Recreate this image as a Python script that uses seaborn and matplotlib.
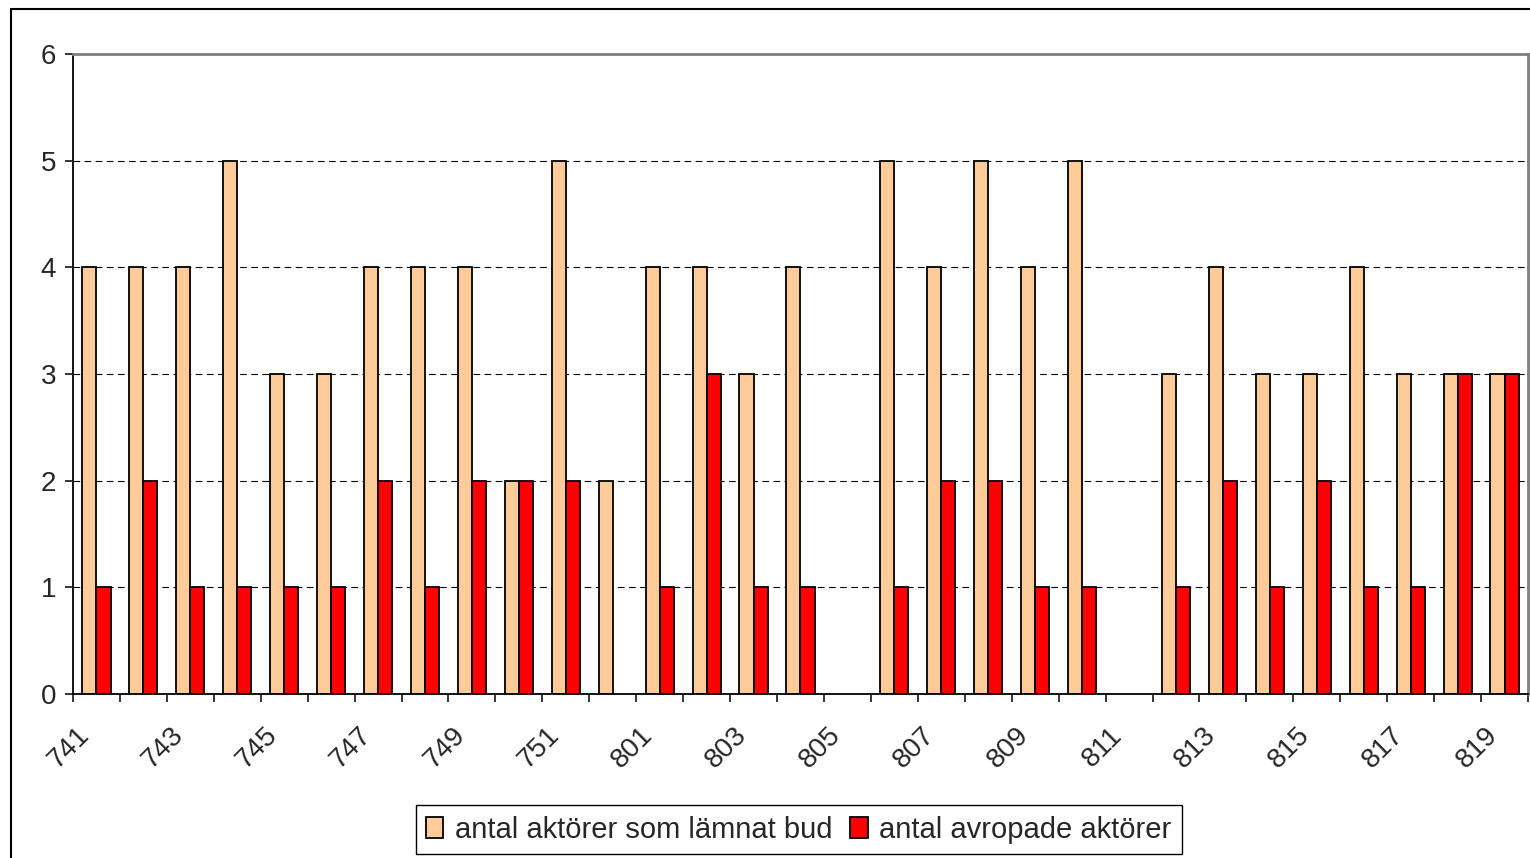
import matplotlib
matplotlib.use('Agg')
import matplotlib.pyplot as plt
import matplotlib.patches as mpatches
import matplotlib.transforms as mtransforms
import seaborn as sns
import pandas as pd
import numpy as np

categories = ['741', '742', '743', '744', '745', '746', '747', '748', '749', '750', '751', '752',
              '801', '802', '803', '804', '805', '806', '807', '808', '809', '810', '811', '812',
              '813', '814', '815', '816', '817', '818', '819']
bud = [4, 4, 4, 5, 3, 3, 4, 4, 4, 2, 5, 2,
       4, 4, 3, 4, 0, 5, 4, 5, 4, 5, 0, 3,
       4, 3, 3, 4, 3, 3, 3]
avropade = [1, 2, 1, 1, 1, 1, 2, 1, 2, 2, 2, 0,
            1, 3, 1, 1, 0, 1, 2, 2, 1, 1, 0, 1,
            2, 1, 2, 1, 1, 3, 3]
series_names = ['antal aktörer som lämnat bud', 'antal avropade aktörer']
colors = ['#FFCC99', '#FF0000']

df = pd.DataFrame({'kategori': categories * 2,
                   'antal': bud + avropade,
                   'serie': [series_names[0]] * len(categories) + [series_names[1]] * len(categories)})

sns.set_style('white')
plt.rcParams['font.family'] = ['Liberation Sans', 'DejaVu Sans']

fig = plt.figure(figsize=(15.3, 8.58), dpi=100)
ax = fig.add_axes([0.0477, 0.191, 0.951, 0.746])

sns.barplot(data=df, x='kategori', y='antal', hue='serie', order=categories,
            hue_order=series_names, palette=colors, saturation=1, width=0.6,
            edgecolor='black', linewidth=1.3, ax=ax, legend=False)

# empty bars should not leave an outline on the axis
for p in ax.patches:
    if p.get_height() == 0:
        p.set_linewidth(0)

ax.set_xlim(-0.5, len(categories) - 0.5)
ax.set_ylim(0, 6)
ax.set_xlabel('')
ax.set_ylabel('')

# gridlines
for y in range(1, 6):
    ax.axhline(y, color='black', linestyle=(0, (6, 4)), linewidth=0.8, zorder=0)

# spines
for s in ['left', 'bottom']:
    ax.spines[s].set_color('black')
    ax.spines[s].set_linewidth(1.3)
for s in ['top', 'right']:
    ax.spines[s].set_color('#808080')
    ax.spines[s].set_linewidth(2)
    ax.spines[s].set_visible(True)

ax.set_yticks(range(0, 7))
ax.tick_params(axis='y', direction='out', length=6, width=1.3, labelsize=20, pad=6, left=True)

# labels at every other category, ticks at category boundaries
pos = np.arange(len(categories))
ax.set_xticks(pos[::2])
ax.set_xticklabels(categories[::2], rotation=45, ha='right', rotation_mode='anchor', fontsize=20)
ax.tick_params(axis='x', which='major', length=0, pad=20)
shift = mtransforms.ScaledTranslation(-20 / 100, 0, fig.dpi_scale_trans)
for lbl in ax.get_xticklabels():
    lbl.set_transform(lbl.get_transform() + shift)
ax.set_xticks(np.arange(-0.5, len(categories), 1), minor=True)
ax.tick_params(axis='x', which='minor', direction='out', length=6, width=1.3, bottom=True)

handles = [mpatches.Patch(facecolor=c, edgecolor='black', linewidth=1.3) for c in colors]
fig.legend(handles, series_names, loc='center', bbox_to_anchor=(0.522, 0.033), ncol=2,
           fontsize=21, frameon=True, fancybox=False, edgecolor='black',
           handlelength=0.6, handleheight=0.7, handletextpad=0.4, columnspacing=0.6,
           borderpad=0.35, framealpha=1)

# outer chart border
fig.patches.append(mpatches.Rectangle((0.0072, -0.05), 1.2, 0.05 + 0.9895, fill=False,
                                      edgecolor='black', linewidth=1.5,
                                      transform=fig.transFigure, figure=fig))

fig.savefig('out.png', dpi=100)
